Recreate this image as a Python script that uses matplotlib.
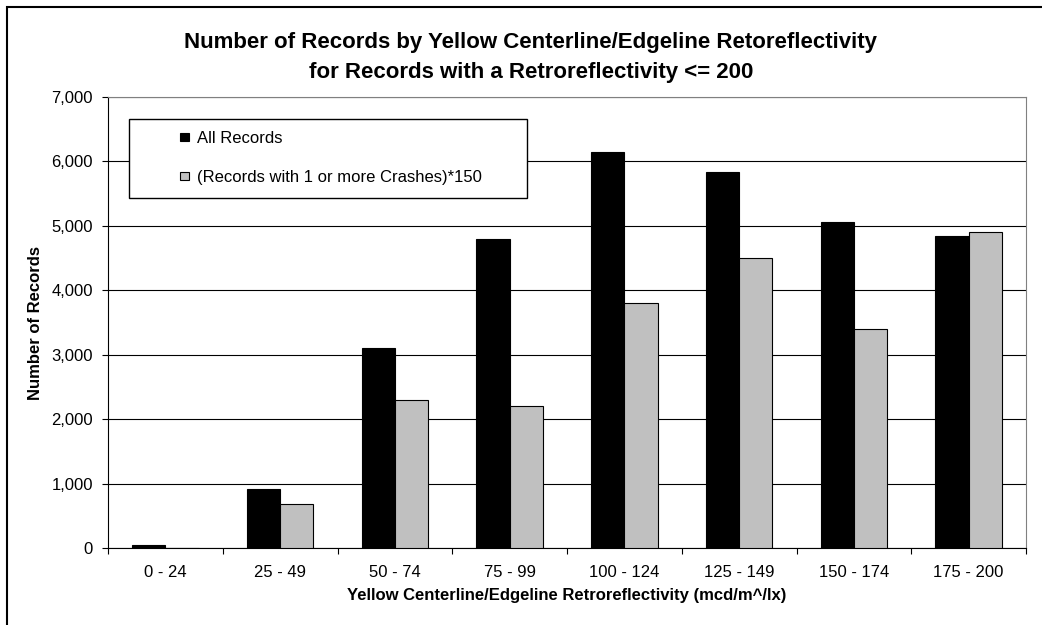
import matplotlib
matplotlib.use("Agg")
import matplotlib.pyplot as plt
import numpy as np
from matplotlib.patches import Rectangle
from matplotlib.ticker import FuncFormatter, FixedLocator, NullFormatter

categories = ["0 - 24", "25 - 49", "50 - 74", "75 - 99", "100 - 124", "125 - 149", "150 - 174", "175 - 200"]
all_records = [50, 910, 3100, 4800, 6150, 5830, 5060, 4850]
crash_records = [0, 690, 2300, 2200, 3800, 4500, 3400, 4900]

plt.rcParams['font.family'] = ['Liberation Sans', 'DejaVu Sans']

W, H = 1042, 625
fig = plt.figure(figsize=(W/100, H/100), dpi=100)

def fx(px):
    return px / W

def fy(py):
    return 1 - py / H

# outer chart frame (right/bottom edges fall outside the image)
fig.patches.append(Rectangle((fx(7), fy(640)), fx(1060 - 7), 633 / H, transform=fig.transFigure,
                             fill=False, edgecolor='black', linewidth=1.5, zorder=0))

L, R, T, B = 108, 1026, 97, 548
ax = fig.add_axes([fx(L), fy(B), fx(R - L), (B - T) / H])
x = np.arange(len(categories))
w = 0.29
ax.bar(x - w/2, all_records, w, color='black', edgecolor='black', linewidth=0.8, label='All Records', zorder=3)
ax.bar(x + w/2, crash_records, w, color='#c0c0c0', edgecolor='black', linewidth=0.8,
       label='(Records with 1 or more Crashes)*150', zorder=3)

ax.set_xlim(-0.5, len(categories) - 0.5)
ax.set_ylim(0, 7000)
ax.set_yticks(np.arange(0, 7001, 1000))
ax.yaxis.set_major_formatter(FuncFormatter(lambda v, p: f"{int(v):,}"))
ax.grid(axis='y', color='black', linewidth=0.8, zorder=0)
ax.set_axisbelow(True)

ax.set_xticks(x)
ax.set_xticklabels(categories, fontsize=12)
ax.tick_params(axis='x', length=0, pad=12)
ax.xaxis.set_minor_locator(FixedLocator(np.arange(-0.5, len(categories), 1.0)))
ax.xaxis.set_minor_formatter(NullFormatter())
ax.tick_params(axis='x', which='minor', length=4, width=0.8, direction='out')
ax.tick_params(axis='y', length=4.3, width=0.8, direction='out', labelsize=12, pad=6.5)

for s in ['top', 'right']:
    ax.spines[s].set_color('#808080')
for s in ['left', 'bottom']:
    ax.spines[s].set_color('black')

ax.set_xlabel("Yellow Centerline/Edgeline Retroreflectivity (mcd/m^/lx)", fontsize=12, fontweight='bold', labelpad=6)
ax.set_ylabel("Number of Records", fontsize=12, fontweight='bold', labelpad=6)

fig.text(0.5 * (7 + 1055) / W, fy(48), "Number of Records by Yellow Centerline/Edgeline Retoreflectivity",
         ha='center', va='baseline', fontsize=16, fontweight='bold')
fig.text(0.5 * (7 + 1055) / W, fy(78), "for Records with a Retroreflectivity <= 200",
         ha='center', va='baseline', fontsize=16, fontweight='bold')

# legend box
box = Rectangle((fx(129), fy(198)), fx(527 - 129), (198 - 119) / H, transform=fig.transFigure,
                facecolor='white', edgecolor='black', linewidth=1.0, zorder=5, clip_on=False)
ax.add_patch(box)
leg = ax.legend(loc='upper left', bbox_to_anchor=(fx(180), fy(131)), bbox_transform=fig.transFigure,
                fontsize=12, frameon=False, handlelength=0.55, handleheight=0.4,
                labelspacing=1.45, borderpad=0, handletextpad=0.45, borderaxespad=0)
leg.set_zorder(6)
fig.savefig("out.png", dpi=100)
